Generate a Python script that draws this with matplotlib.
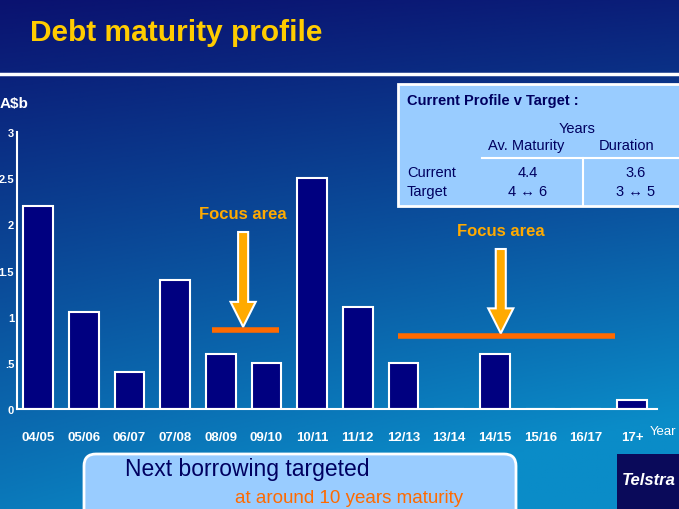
import matplotlib.pyplot as plt
import numpy as np
from matplotlib.patches import Rectangle, FancyBboxPatch, FancyArrow

# Chart data
years = ["04/05", "05/06", "06/07", "07/08", "08/09", "09/10", "10/11",
         "11/12", "12/13", "13/14", "14/15", "15/16", "16/17", "17+"]
debt = [2.2, 1.05, 0.4, 1.4, 0.6, 0.5, 2.5, 1.1, 0.5, 0, 0.6, 0, 0, 0.1]
yticks = [0, 0.5, 1, 1.5, 2, 2.5, 3]
ytick_labels = ["0", ".5", "1", "1.5", "2", "2.5", "3"]

table_cols = ["Av. Maturity", "Duration"]
table_rows = ["Current", "Target"]
table_vals = [["4.4", "3.6"], ["4 \u2194 6", "3 \u2194 5"]]

# focus areas: (arrow x in category units, line start, line end, line level)
focus = [(4.49, 3.81, 5.27, 0.86), (10.13, 7.88, 12.63, 0.79)]

W, H = 679, 510
plt.rcParams['font.family'] = ['Liberation Sans', 'DejaVu Sans']
fig = plt.figure(figsize=(W / 100, H / 100), dpi=100)

# background gradient
bg = fig.add_axes([0, 0, 1, 1])
yy, xx = np.mgrid[0:1:200j, 0:1:200j]
t = np.clip(0.85 * yy + 0.25 * xx * yy + 0.1 * xx, 0, 1)
top = np.array([10, 18, 112]) / 255
bot = np.array([10, 140, 200]) / 255
img = top[None, None, :] * (1 - t[..., None]) + bot[None, None, :] * t[..., None]
bg.imshow(img, extent=[0, W, H, 0], aspect='auto')
bg.set_xlim(0, W)
bg.set_ylim(H, 0)
bg.axis('off')

def px(x, y):
    return x / W, 1 - y / H

# title and separator
fig.text(*px(30, 33), "Debt maturity profile", color='#ffcc00', fontsize=21.5,
         fontweight='bold', va='center')
bg.plot([0, W], [75, 75], color='white', lw=2.5)

# main axes
x0, x1 = 17, 657
yb, yt = 410, 133
ax = fig.add_axes([x0 / W, 1 - yb / H, (x1 - x0) / W, (yb - yt) / H])
ax.patch.set_alpha(0)
xs = np.arange(len(years))
ax.bar(xs, debt, width=0.65, color='#000080', edgecolor='white', linewidth=1.5)
ax.set_xlim(-0.46, 13.55)
ax.set_ylim(0, 3)
ax.set_xticks(xs)
ax.set_xticklabels(years, color='white', fontsize=9.5, fontweight='bold')
ax.set_yticks(yticks)
ax.set_yticklabels(ytick_labels, color='white', fontsize=8, fontweight='bold')
ax.tick_params(length=0, axis='x', pad=16)
ax.tick_params(length=0, axis='y', pad=2)
for s in ['top', 'right']:
    ax.spines[s].set_visible(False)
for s in ['left', 'bottom']:
    ax.spines[s].set_color('white')
    ax.spines[s].set_linewidth(1.5)

fig.text(*px(0, 104), "A$b", color='white', fontsize=11, fontweight='bold', va='center')
fig.text(*px(676, 432), "Year", color='white', fontsize=9.5, va='center', ha='right')

# focus areas
for (xa, l0, l1, lev), ty in zip(focus, [214, 231]):
    ax.plot([l0, l1], [lev, lev], color='#ff6a00', lw=4, solid_capstyle='butt', zorder=3)
    ytop = (yb - (ty + 19)) / ((yb - yt) / 3)
    arr = FancyArrow(xa, ytop, 0, lev + 0.03 - ytop, width=0.22, head_width=0.55,
                     head_length=0.27, length_includes_head=True,
                     facecolor='#ffaa00', edgecolor='white', lw=1.5, zorder=4)
    ax.add_patch(arr)
    ax.text(xa, ytop + 0.2, "Focus area", color='#ffaa00', fontsize=12,
            fontweight='bold', ha='center', va='center')

# table box
bg.add_patch(Rectangle((398, 85), 290, 122, facecolor='#99ccff', edgecolor='white', lw=2))
bg.text(407, 101, "Current Profile v Target :", color='#000060', fontsize=10.5,
        fontweight='bold', va='center')
bg.text(577, 129, "Years", color='#000060', fontsize=10.5, ha='center', va='center')
bg.text(526, 146, table_cols[0], color='#000060', fontsize=10.5, ha='center', va='center')
bg.text(627, 146, table_cols[1], color='#000060', fontsize=10.5, ha='center', va='center')
bg.plot([482, 679], [159, 159], color='white', lw=1.5)
bg.plot([583, 583], [159, 207], color='white', lw=1.5)
for i, (rname, vals) in enumerate(zip(table_rows, table_vals)):
    yy_ = 173 + i * 19
    bg.text(407, yy_, rname, color='#000060', fontsize=10.5, va='center')
    bg.text(528, yy_, vals[0], color='#000060', fontsize=10.5, ha='center', va='center')
    bg.text(636, yy_, vals[1], color='#000060', fontsize=10.5, ha='center', va='center')

# bottom note box
bg.add_patch(FancyBboxPatch((84, 455), 432, 70, boxstyle='round,pad=0,rounding_size=12',
                            facecolor='#99ccff', edgecolor='white', lw=2))
bg.text(125, 470, "Next borrowing targeted", color='#000060', fontsize=16.5, va='center')
bg.text(235, 499, "at around 10 years maturity", color='#ff6a00', fontsize=13.5, va='center')

# logo block
bg.add_patch(Rectangle((617, 455), 70, 60, facecolor='#0a0a5a', edgecolor='none'))
bg.text(622, 481, "Telstra", color='white', fontsize=12, fontweight='bold',
        style='italic', va='center')

fig.savefig("out.png", dpi=100)
